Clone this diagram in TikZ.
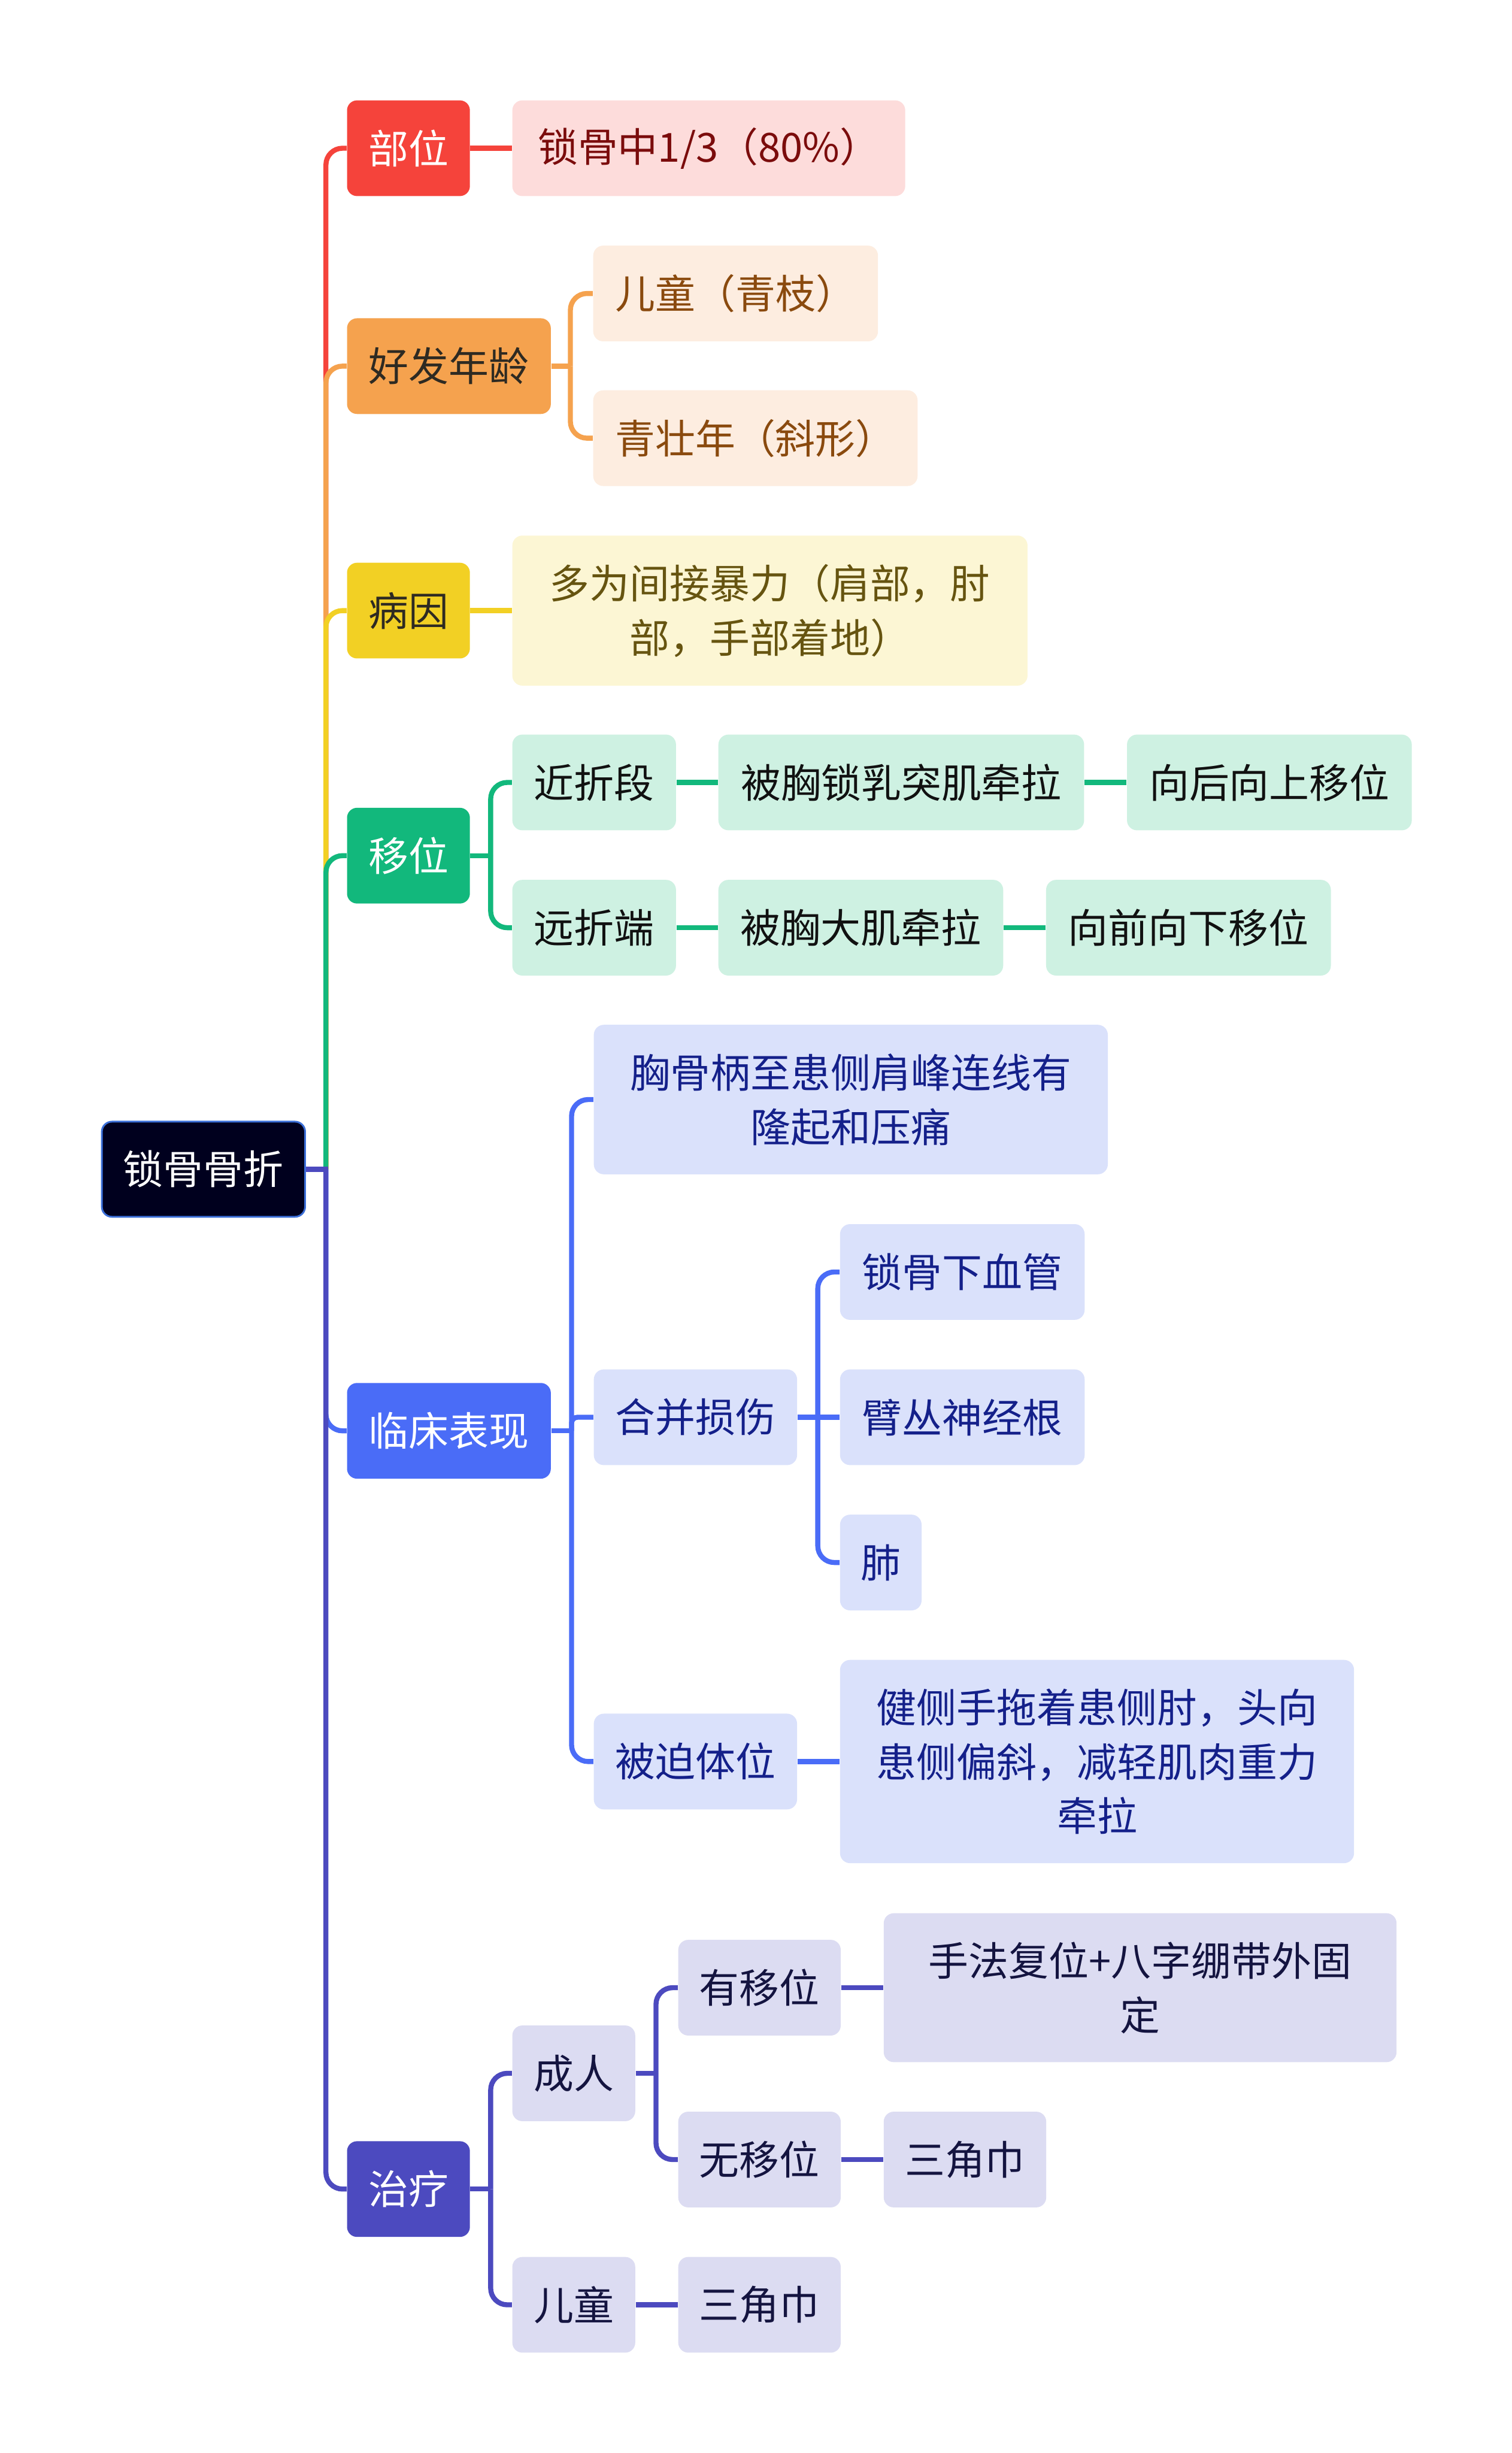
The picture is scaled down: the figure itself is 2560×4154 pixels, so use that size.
\documentclass[tikz,border=0pt]{standalone}
\usepackage{fontspec}
\setmainfont{Noto Sans CJK SC}
\usetikzlibrary{backgrounds}
\definecolor{cRoot}{HTML}{00001E}
\definecolor{cRootB}{HTML}{3B6FD8}
\definecolor{cRed}{HTML}{F5433B}
\definecolor{cRedL}{HTML}{FDDCDB}
\definecolor{cRedT}{HTML}{7B0C0C}
\definecolor{cOr}{HTML}{F5A24E}
\definecolor{cOrL}{HTML}{FDEDE0}
\definecolor{cOrT}{HTML}{8A4A0E}
\definecolor{cYe}{HTML}{F2D024}
\definecolor{cYeL}{HTML}{FCF6D4}
\definecolor{cYeT}{HTML}{665410}
\definecolor{cGr}{HTML}{12B87C}
\definecolor{cGrL}{HTML}{CEF1E2}
\definecolor{cGrT}{HTML}{111111}
\definecolor{cBl}{HTML}{4A6CF7}
\definecolor{cBlL}{HTML}{DAE1FB}
\definecolor{cBlT}{HTML}{14208A}
\definecolor{cIn}{HTML}{4C4ABF}
\definecolor{cInL}{HTML}{DCDCF2}
\definecolor{cInT}{HTML}{141440}
\definecolor{cDark}{HTML}{2E2A22}
\begin{document}
\begin{tikzpicture}[x=0.01cm,y=-0.01cm,
  every node/.style={font=\fontsize{19.3pt}{26.2pt}\selectfont},
  box/.style={rounded corners=0.17cm, minimum height=1.62cm, inner xsep=0pt, inner ysep=0pt, anchor=west, align=center},
  conn/.style={line width=0.085cm, line cap=butt},
  elb/.style={conn, rounded corners=0.28cm}]
\useasboundingbox (0,0) rectangle (2560,4154);

% root
\node[box, fill=cRoot, draw=cRootB, line width=0.03cm, text=white, minimum width=3.44cm, minimum height=1.61cm] (root) at (171,1980) {锁骨骨折};

% level 1
\node[box, fill=cRed, text=white, minimum width=2.08cm] (bw) at (587,251) {部位};
\node[box, fill=cOr, text=cDark, minimum width=3.45cm] (hf) at (587,620) {好发年龄};
\node[box, fill=cYe, text=cDark, minimum width=2.08cm] (by) at (587,1034) {病因};
\node[box, fill=cGr, text=white, minimum width=2.08cm] (yw) at (587,1449) {移位};
\node[box, fill=cBl, text=white, minimum width=3.45cm] (lc) at (587,2423) {临床表现};
\node[box, fill=cIn, text=white, minimum width=2.08cm] (zl) at (587,3707) {治疗};

% 部位
\node[box, fill=cRedL, text=cRedT, minimum width=6.65cm] (bw1) at (867,251) {锁骨中1/3（80\%）};
% 好发年龄
\node[box, fill=cOrL, text=cOrT, minimum width=4.82cm] (hf1) at (1004,497) {儿童（青枝）};
\node[box, fill=cOrL, text=cOrT, minimum width=5.49cm] (hf2) at (1004,742) {青壮年（斜形）};
% 病因
\node[box, fill=cYeL, text=cYeT, minimum width=8.72cm, minimum height=2.54cm] (by1) at (867,1034) {多为间接暴力（肩部，肘\\部，手部着地）};
% 移位
\node[box, fill=cGrL, text=cGrT, minimum width=2.77cm] (jz) at (867,1325) {近折段};
\node[box, fill=cGrL, text=cGrT, minimum width=6.19cm] (jz1) at (1216,1325) {被胸锁乳突肌牵拉};
\node[box, fill=cGrL, text=cGrT, minimum width=4.82cm] (jz2) at (1908,1325) {向后向上移位};
\node[box, fill=cGrL, text=cGrT, minimum width=2.77cm] (yz) at (867,1571) {远折端};
\node[box, fill=cGrL, text=cGrT, minimum width=4.82cm] (yz1) at (1216,1571) {被胸大肌牵拉};
\node[box, fill=cGrL, text=cGrT, minimum width=4.82cm] (yz2) at (1771,1571) {向前向下移位};
% 临床表现
\node[box, fill=cBlL, text=cBlT, minimum width=8.70cm, minimum height=2.53cm] (lc1) at (1005,1862) {胸骨柄至患侧肩峰连线有\\隆起和压痛};
\node[box, fill=cBlL, text=cBlT, minimum width=3.44cm] (hb) at (1005,2400) {合并损伤};
\node[box, fill=cBlL, text=cBlT, minimum width=4.14cm] (hb1) at (1422,2154) {锁骨下血管};
\node[box, fill=cBlL, text=cBlT, minimum width=4.14cm] (hb2) at (1422,2400) {臂丛神经根};
\node[box, fill=cBlL, text=cBlT, minimum width=1.38cm] (hb3) at (1422,2646) {肺};
\node[box, fill=cBlL, text=cBlT, minimum width=3.44cm] (bp) at (1005,2983) {被迫体位};
\node[box, fill=cBlL, text=cBlT, minimum width=8.70cm, minimum height=3.44cm] (bp1) at (1422,2983) {健侧手拖着患侧肘，头向\\患侧偏斜，减轻肌肉重力\\牵拉};
% 治疗
\node[box, fill=cInL, text=cInT, minimum width=2.08cm] (cr) at (867,3511) {成人};
\node[box, fill=cInL, text=cInT, minimum width=2.75cm] (cr1) at (1148,3366) {有移位};
\node[box, fill=cInL, text=cInT, minimum width=8.68cm, minimum height=2.52cm] (cr11) at (1496,3366) {手法复位+八字绷带外固\\定};
\node[box, fill=cInL, text=cInT, minimum width=2.75cm] (cr2) at (1148,3657) {无移位};
\node[box, fill=cInL, text=cInT, minimum width=2.75cm] (cr21) at (1496,3657) {三角巾};
\node[box, fill=cInL, text=cInT, minimum width=2.08cm] (et) at (867,3903) {儿童};
\node[box, fill=cInL, text=cInT, minimum width=2.75cm] (et1) at (1148,3903) {三角巾};

\begin{scope}[on background layer]
\fill[white] (0,0) rectangle (2560,4154);
% trunk
\coordinate (tj) at (552,1980);
\draw[elb, cRed] (tj) |- (bw.west);
\draw[elb, cOr] (tj) |- (hf.west);
\draw[elb, cYe] (tj) |- (by.west);
\draw[elb, cGr] (tj) |- (yw.west);
\draw[elb, cBl] (tj) |- (lc.west);
\draw[elb, cIn] (tj) |- (zl.west);
\draw[conn, cIn] (root.east) -- (556,1980);
% 部位
\draw[conn, cRed] (bw.east) -- (bw1.west);
% 好发年龄
\coordinate (hj) at (966,620);
\draw[conn, cOr] (hf.east) -- (hj);
\draw[elb, cOr] (hj) |- (hf1.west);
\draw[elb, cOr] (hj) |- (hf2.west);
% 病因
\draw[conn, cYe] (by.east) -- (by1.west);
% 移位
\coordinate (yj) at (831,1449);
\draw[conn, cGr] (yw.east) -- (yj);
\draw[elb, cGr] (yj) |- (jz.west);
\draw[elb, cGr] (yj) |- (yz.west);
\draw[conn, cGr] (jz.east) -- (jz1.west);
\draw[conn, cGr] (jz1.east) -- (jz2.west);
\draw[conn, cGr] (yz.east) -- (yz1.west);
\draw[conn, cGr] (yz1.east) -- (yz2.west);
% 临床表现
\coordinate (lj) at (968,2423);
\draw[conn, cBl] (lc.east) -- (lj);
\draw[elb, cBl] (lj) |- (lc1.west);
\draw[conn, cBl, rounded corners=0.1cm] (lj) |- (hb.west);
\draw[elb, cBl] (lj) |- (bp.west);
\coordinate (hbj) at (1385,2400);
\draw[conn, cBl] (hb.east) -- (hb2.west);
\draw[elb, cBl] (hbj) |- (hb1.west);
\draw[elb, cBl] (hbj) |- (hb3.west);
\draw[conn, cBl] (bp.east) -- (bp1.west);
% 治疗
\coordinate (zj) at (831,3707);
\draw[conn, cIn] (zl.east) -- (zj);
\draw[elb, cIn] (zj) |- (cr.west);
\draw[elb, cIn] (zj) |- (et.west);
\coordinate (crj) at (1111,3511);
\draw[conn, cIn] (cr.east) -- (crj);
\draw[elb, cIn] (crj) |- (cr1.west);
\draw[elb, cIn] (crj) |- (cr2.west);
\draw[conn, cIn] (cr1.east) -- (cr11.west);
\draw[conn, cIn] (cr2.east) -- (cr21.west);
\draw[conn, cIn] (et.east) -- (et1.west);
\end{scope}
\end{tikzpicture}
\end{document}
